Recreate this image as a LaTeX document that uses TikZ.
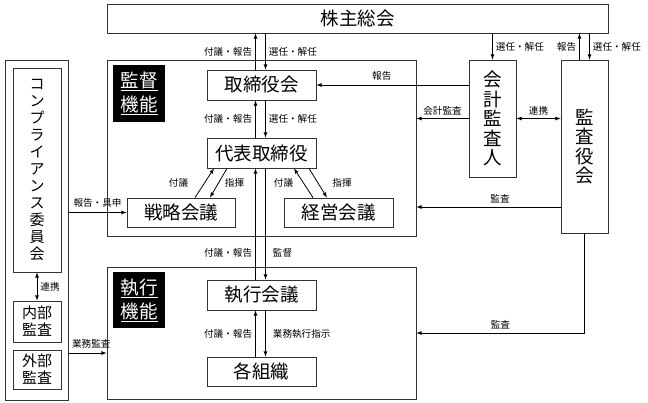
\documentclass[tikz,border=0pt]{standalone}
\usepackage{fontspec}
\setmainfont{Noto Sans CJK JP}
\usetikzlibrary{positioning}

\newcommand\jpbig{\fontsize{18.5pt}{22pt}\selectfont}
\newcommand\jpvert{\fontsize{18.5pt}{19.6pt}\selectfont}
\newcommand\jpmid{\fontsize{15pt}{17pt}\selectfont}
\newcommand\jpsmall{\fontsize{9.6pt}{11pt}\selectfont}

\begin{document}
\begin{tikzpicture}[x=1pt, y=-1pt, >=latex, line width=0.8pt,
    frame/.style={rectangle, draw=black!80, inner sep=0pt},
    organ/.style={rectangle, draw=black!80, inner sep=0pt, minimum width=109pt, minimum height=30pt, font=\jpbig},
    vbox/.style={rectangle, draw=black!80, inner sep=0pt, minimum width=47pt, align=center, font=\jpvert},
    tag/.style={rectangle, fill=black, text=white, inner sep=0pt, minimum width=52pt, align=center, font=\fontsize{18.5pt}{24pt}\selectfont},
    lbl/.style={inner sep=1pt, font=\jpsmall}]
    \useasboundingbox (0,0) rectangle (648,403);

    % Top level and frames
    \node [frame, minimum width=501pt, minimum height=29pt, font=\jpbig] (gm) at (357.5,18.5) {株主総会};
    \node [frame, minimum width=309pt, minimum height=176pt] (sup) at (261.5,148) {};
    \node [frame, minimum width=309pt, minimum height=132pt] (exe) at (261.5,333) {};
    \node [frame, minimum width=63pt, minimum height=340pt] (cframe) at (36.5,230) {};
    \node [tag, minimum height=57pt] (suptag) at (139,93.5) {\underline{監督}\\\underline{機能}};
    \node [tag, minimum height=56pt] (exetag) at (139,300) {\underline{執行}\\\underline{機能}};

    % Core components
    \node [organ] (board) at (261.5,85) {取締役会};
    \node [organ, node distance=68pt, below of=board] (rep) {代表取締役};
    \node [organ, minimum width=108pt, minimum height=29pt, node distance=59.5pt, below of=rep, xshift=-80.5pt] (strat) {戦略会議};
    \node [organ, minimum height=29pt, node distance=157.5pt, right of=strat] (mgmt) {経営会議};
    \node [organ, node distance=142pt, below of=rep] (exm) {執行会議};
    \node [organ, minimum height=29pt, node distance=76.5pt, below of=exm] (org) {各組織};

    % Auditors
    \node [vbox, minimum height=117pt] (acc) at (492.5,118.5) {会\\計\\監\\査\\人};
    \node [vbox, minimum height=173pt] (kan) at (584.5,146.5) {監\\査\\役\\会};

    % Compliance
    \node [vbox, minimum width=48pt, minimum height=204pt, font=\jpmid] (comp) at (37,170) {コ\\ン\\プ\\ラ\\イ\\ア\\ン\\ス\\委\\員\\会};
    \node [vbox, minimum width=48pt, minimum height=41pt, font=\jpmid] (ia) at (37,321.5) {内部\\監査};
    \node [vbox, minimum width=48pt, minimum height=39pt, font=\jpmid] (ea) at (37,369.5) {外部\\監査};

    % Main column arrows
    \coordinate (up) at ([xshift=-6pt]board.north);
    \coordinate (dn) at ([xshift=4pt]board.north);
    \draw[->] (up) -- (up |- gm.south) node[lbl, midway, left=2pt] {付議・報告};
    \draw[->] (dn |- gm.south) -- (dn) node[lbl, midway, right=2pt] {選任・解任};
    \draw[->] (up |- rep.north) -- (up |- board.south) node[lbl, midway, left=2pt] {付議・報告};
    \draw[->] (dn |- board.south) -- (dn |- rep.north) node[lbl, midway, right=2pt] {選任・解任};
    \draw[->] (up |- exm.north) -- (up |- rep.south) node[lbl, pos=0.24, left=2pt] {付議・報告};
    \draw[->] (dn |- rep.south) -- (dn |- exm.north) node[lbl, pos=0.76, right=6pt] {監督};
    \draw[->] (up |- org.north) -- (up |- exm.south) node[lbl, midway, left=2pt] {付議・報告};
    \draw[->] (dn |- exm.south) -- (dn |- org.north) node[lbl, midway, right=6pt] {業務執行指示};

    % Meetings
    \draw[->] ([xshift=14pt]strat.north) -- ([xshift=-47.5pt]rep.south) node[lbl, midway, left=15pt] {付議};
    \draw[->] ([xshift=-34.5pt]rep.south) -- ([xshift=29pt]strat.north) node[lbl, midway, right=5pt] {指揮};
    \draw[->] ([xshift=-25.5pt]mgmt.north) -- ([xshift=32.5pt]rep.south) node[lbl, midway, left=9pt] {付議};
    \draw[->] ([xshift=47.5pt]rep.south) -- ([xshift=-11.5pt]mgmt.north) node[lbl, midway, right=13pt] {指揮};

    % Auditor arrows
    \coordinate (kup) at ([xshift=-5pt]kan.north);
    \coordinate (kdn) at ([xshift=5pt]kan.north);
    \coordinate (kaud) at ([yshift=-60.5pt]kan.west);
    \draw[->] (acc.west |- board.east) -- (board.east) node[lbl, pos=0.57, above=3pt] {報告};
    \draw[->] (acc.west) -- (acc.west -| sup.east) node[lbl, midway, above=2pt] {会計監査};
    \draw[<->] (acc.east) -- (acc.east -| kan.west) node[lbl, midway, above=2pt] {連携};
    \draw[->] (acc.north |- gm.south) -- (acc.north) node[lbl, midway, right=2pt] {選任・解任};
    \draw[->] (kup) -- (kup |- gm.south) node[lbl, midway, left=2pt] {報告};
    \draw[->] (kdn |- gm.south) -- (kdn) node[lbl, midway, right=2pt] {選任・解任};
    \draw[->] (kaud) -- (kaud -| sup.east) node[lbl, pos=0.42, above=3pt] {監査};
    \draw[->] (kan.south) |- (exe.east) node[lbl, pos=0.75, above=3pt] {監査};

    % Compliance arrows
    \coordinate (gyo) at ([yshift=-20pt]exe.west);
    \draw[->] (strat.west -| cframe.east) -- (strat.west) node[lbl, midway, above=4pt] {報告・具申};
    \draw[<->] (comp.south) -- (ia.north) node[lbl, midway, right=2pt] {連携};
    \draw[->] (gyo -| cframe.east) -- (gyo) node[lbl, pos=0.6, above=3pt] {業務監査};
\end{tikzpicture}
\end{document}
